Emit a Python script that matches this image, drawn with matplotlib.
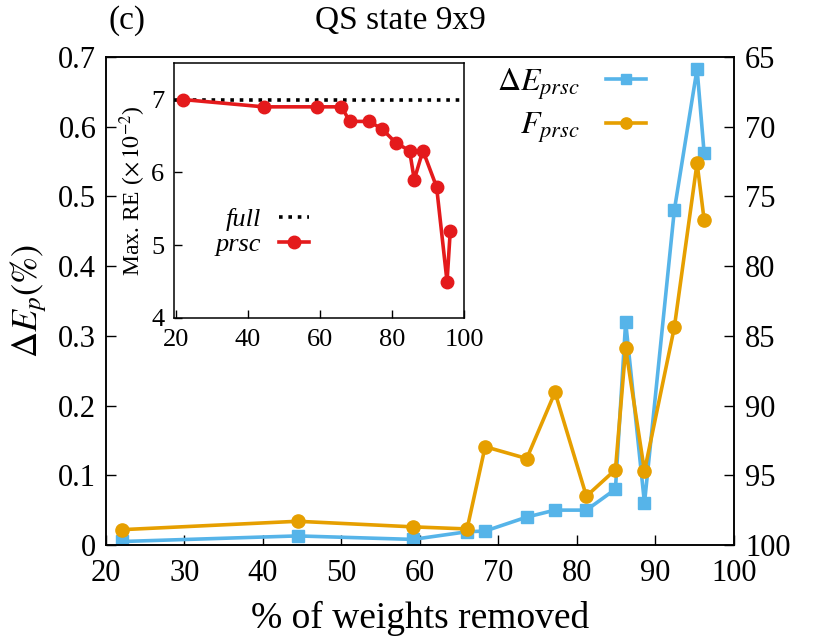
import matplotlib
matplotlib.use("Agg")
import matplotlib.pyplot as plt

plt.rcParams['font.family'] = ['Liberation Serif', 'DejaVu Serif']
plt.rcParams['mathtext.fontset'] = 'stix'

# data
removed = [22.1, 44.4, 59.1, 66.0, 68.3, 73.6, 77.2, 81.2, 84.9, 86.2, 88.6, 92.4, 95.3, 96.2]
dE_prsc = [0.005, 0.013, 0.008, 0.019, 0.020, 0.040, 0.050, 0.050, 0.080, 0.320, 0.060, 0.480, 0.683, 0.562]
F_prsc = [98.9, 98.3, 98.7, 98.85, 92.95, 93.8, 89.05, 96.5, 94.6, 85.9, 94.7, 84.4, 72.6, 76.7]
maxRE_prsc = [7.0, 6.9, 6.9, 6.9, 6.7, 6.7, 6.6, 6.4, 6.3, 5.9, 6.3, 5.8, 4.5, 5.2]
maxRE_full = 7.0

xticks = [20, 30, 40, 50, 60, 70, 80, 90, 100]
yticks_left = [0, 0.1, 0.2, 0.3, 0.4, 0.5, 0.6, 0.7]
yticks_right = [65, 70, 75, 80, 85, 90, 95, 100]

blue = '#56B4E9'
orange = '#E69F00'
red = '#E41A1C'

fig = plt.figure(figsize=(8.3, 6.38), dpi=100)
ax = fig.add_axes([0.1277, 0.1458, 0.7566, 0.7649])
ax2 = ax.twinx()

l1, = ax.plot(removed, dE_prsc, color=blue, lw=2.6, marker='s', ms=9,
              label=r'$\Delta E_{prsc}$')
l2, = ax2.plot(removed, F_prsc, color=orange, lw=2.6, marker='o', ms=9.5,
               label=r'$F_{prsc}$')

ax.set_xlim(20, 100)
ax.set_ylim(0, 0.7)
ax2.set_ylim(100, 65)
ax.set_xticks(xticks)
ax.set_yticks(yticks_left)
ax.set_yticklabels(['0' if v == 0 else f'{v:g}' for v in yticks_left])
ax2.set_yticks(yticks_right)

for a in (ax, ax2):
    a.tick_params(direction='in', labelsize=22, length=7, width=1.0)
    for s in a.spines.values():
        s.set_linewidth(1.1)
ax.tick_params(axis='x', pad=10)
ax.tick_params(axis='y', pad=7)
ax2.tick_params(axis='y', pad=8)

ax.set_xlabel('% of weights removed', fontsize=27)
ax.xaxis.set_label_coords(0.5, -0.115)
ax.set_ylabel(r'$\Delta E_p(\%)$', fontsize=26)
ax.yaxis.set_label_coords(-0.09, 0.5)
fig.text(0.482, 0.968, 'QS state 9x9', fontsize=24, ha='center', va='center')
fig.text(0.153, 0.968, '(c)', fontsize=24, ha='center', va='center')

ax2.legend([l1, l2], [l1.get_label(), l2.get_label()], loc='upper right',
           bbox_to_anchor=(0.905, 1.04), frameon=False, markerfirst=False,
           fontsize=23, handlelength=1.25, handletextpad=0.8, labelspacing=0.3,
           markerscale=0.85)

# inset
ins = fig.add_axes([0.2096, 0.5016, 0.3494, 0.3994])
ins.axhline(maxRE_full, color='black', lw=2.6, ls=(0, (1, 1.6)), label='full')
ins.plot(removed, maxRE_prsc, color=red, lw=2.6, marker='o', ms=9, label='prsc')
ins.set_xlim(19.5, 100)
ins.set_ylim(4, 7.5)
ins.set_xticks([20, 40, 60, 80, 100])
ins.set_yticks([4, 5, 6, 7])
ins.tick_params(direction='in', labelsize=19, length=6, width=1.0, top=False, right=False)
ins.tick_params(axis='x', pad=8)
ins.tick_params(axis='y', pad=7)
for s in ins.spines.values():
    s.set_linewidth(1.1)
ins.set_ylabel(r'Max. RE ($\times\,10^{-2}$)', fontsize=17, labelpad=2)
leg = ins.legend(loc='lower left', bbox_to_anchor=(0.06, 0.15), frameon=False,
                 markerfirst=False, fontsize=19, handlelength=1.15,
                 handletextpad=0.7, labelspacing=0.05)
for t in leg.get_texts():
    t.set_fontstyle('italic')

fig.savefig('out.png', dpi=100)
